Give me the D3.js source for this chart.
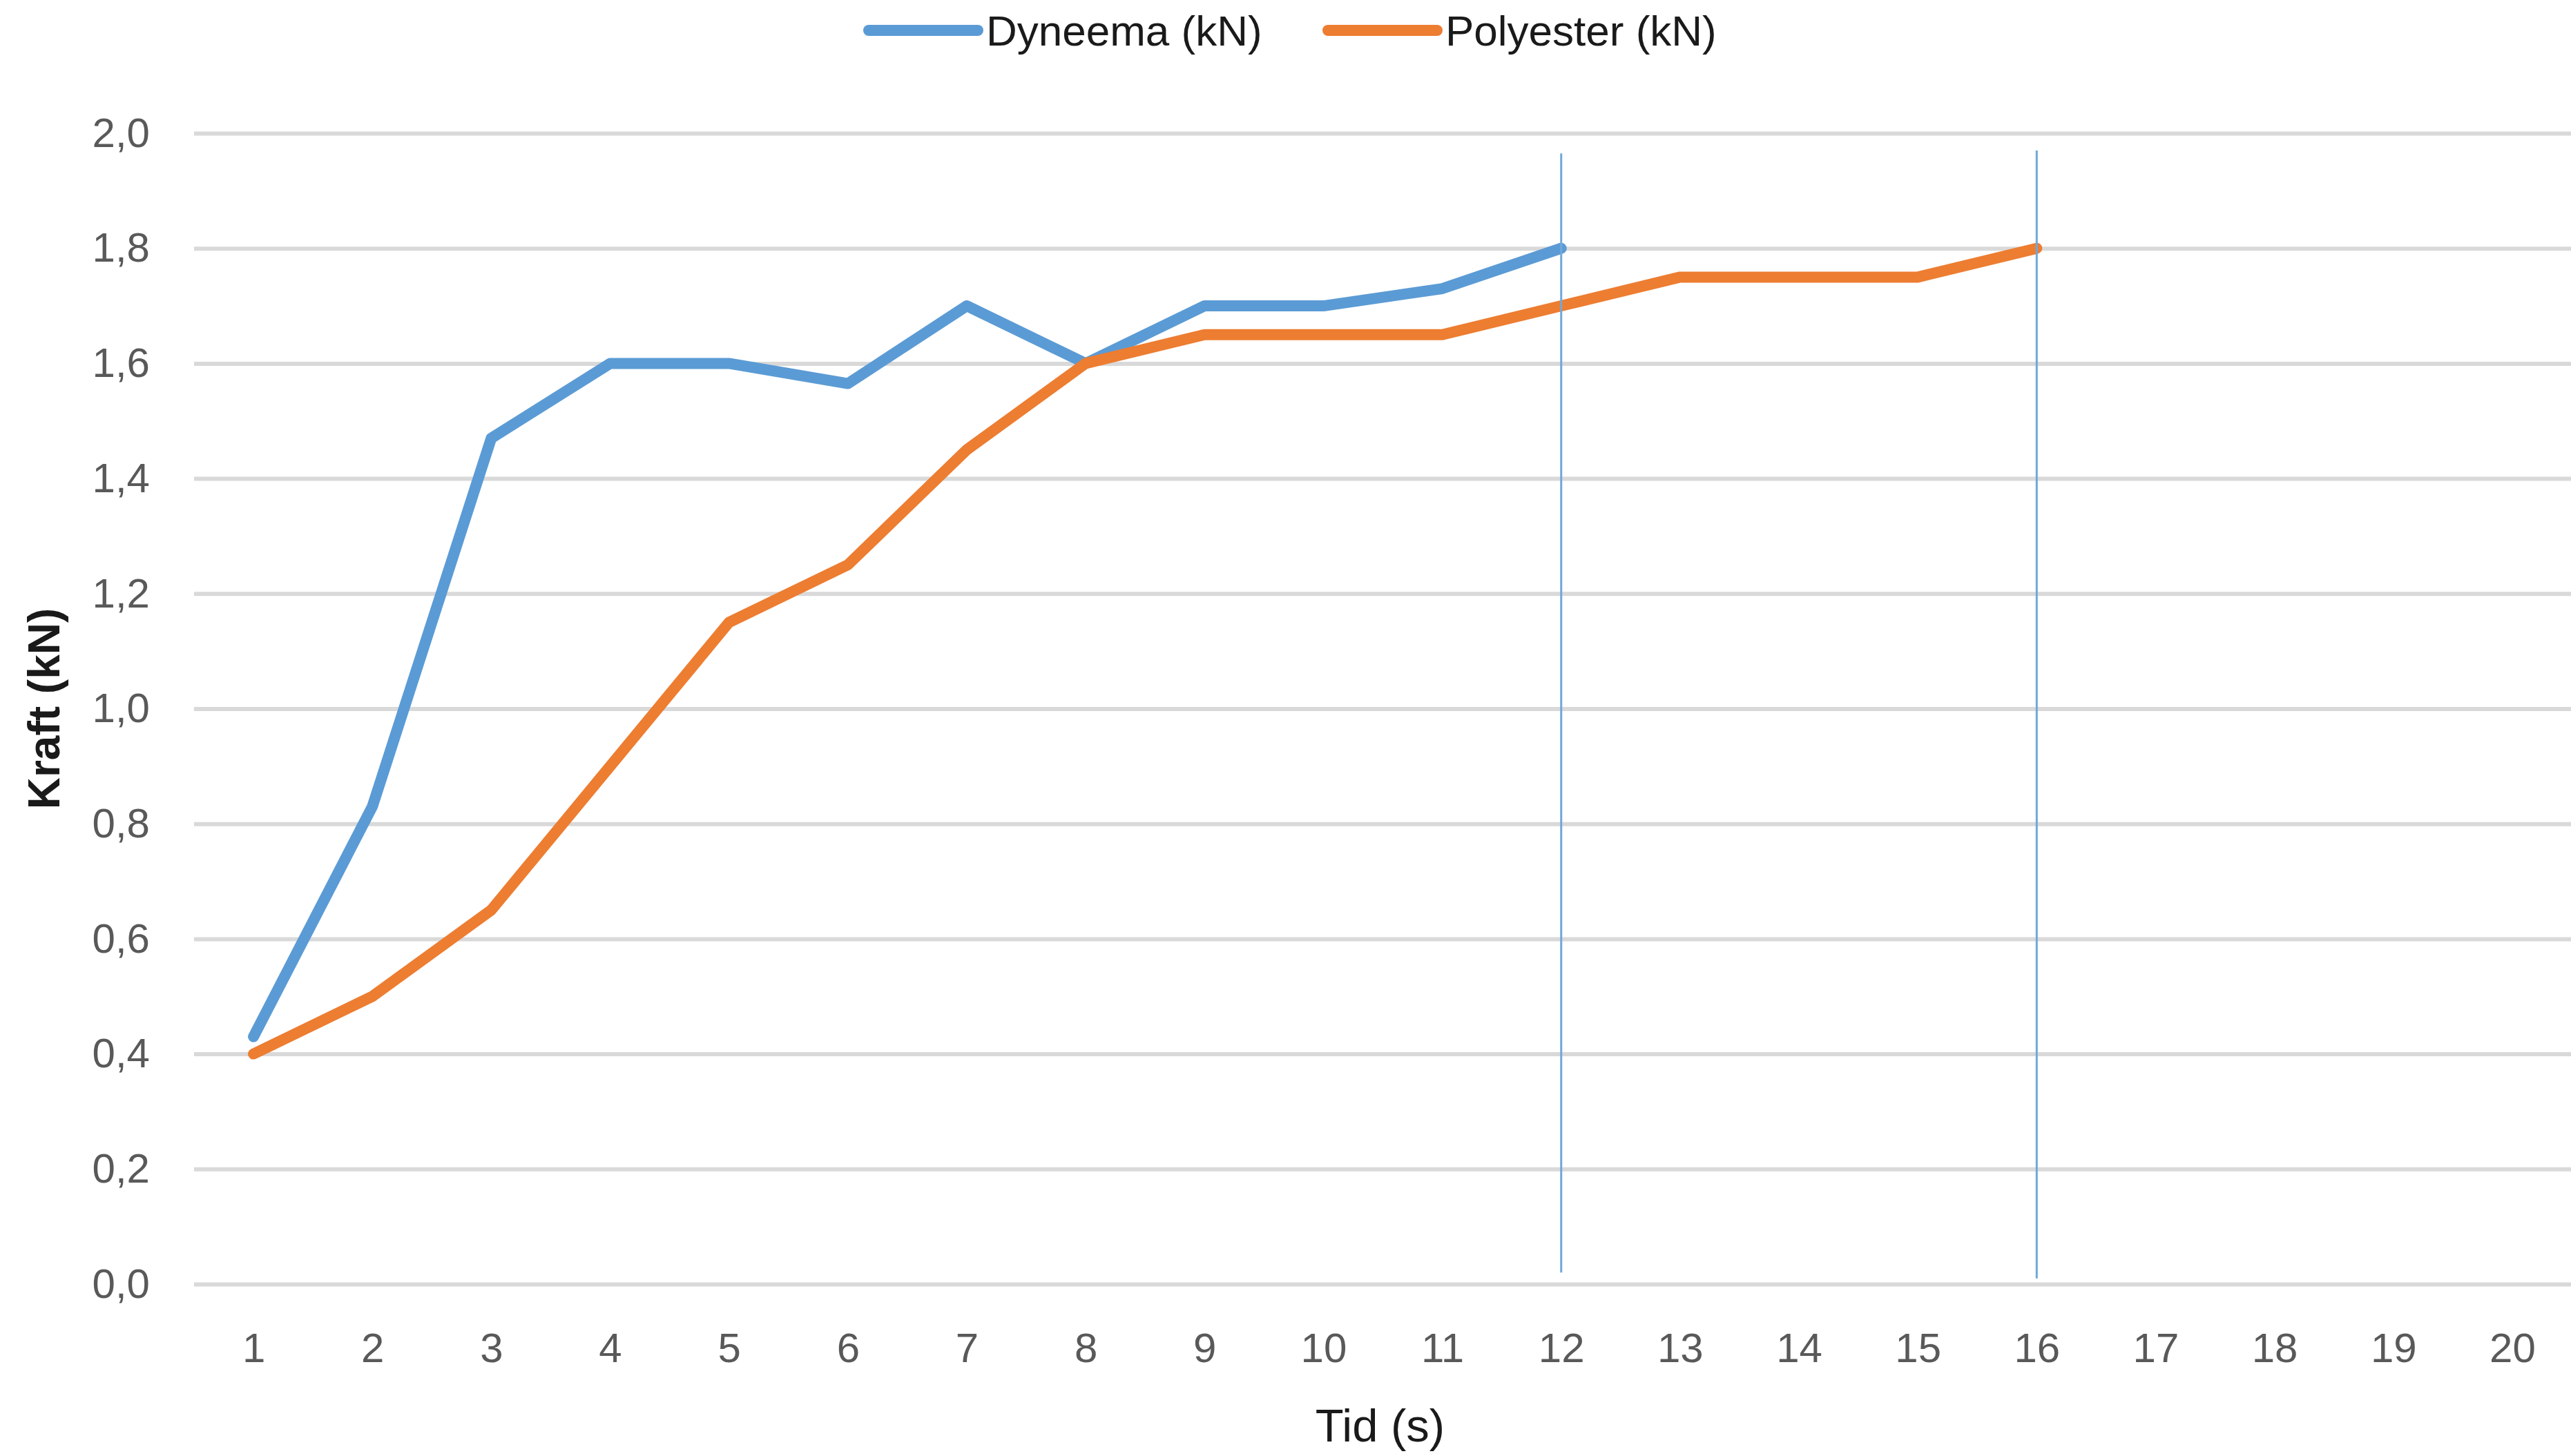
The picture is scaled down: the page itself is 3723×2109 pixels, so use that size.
<!DOCTYPE html>
<html>
<head>
<meta charset="utf-8">
<script src="https://cdn.jsdelivr.net/npm/d3@7"></script>
<style>
	body { margin: 0; background: white; }
	text { font-family: "Liberation Sans", Arial, sans-serif; }
</style>
</head>
<body>
<svg id="chart"></svg>
<script>
//****************************************************************************************************************************//
// Data

var tid = [1, 2, 3, 4, 5, 6, 7, 8, 9, 10, 11, 12, 13, 14, 15, 16, 17, 18, 19, 20];
var dyneema = [0.43, 0.83, 1.47, 1.60, 1.60, 1.565, 1.70, 1.60, 1.70, 1.70, 1.73, 1.80];
var polyester = [0.40, 0.50, 0.65, 0.90, 1.15, 1.25, 1.45, 1.60, 1.65, 1.65, 1.65, 1.70, 1.75, 1.75, 1.75, 1.80];
var yTicks = [0, 0.2, 0.4, 0.6, 0.8, 1.0, 1.2, 1.4, 1.6, 1.8, 2.0];
var seriesNames = ["Dyneema (kN)", "Polyester (kN)"];
var seriesColors = ["#5B9BD5", "#ED7D31"];
// vertical marker lines drawn on the chart (time, top value, bottom value)
var markerTimes = [12, 16];
var markerTops = [1.965, 1.97];
var markerBottoms = [0.02, 0.01];

//****************************************************************************************************************************//
// Canvas

var width = 3723, height = 2109;
var plot = {left: 281, right: 3724, top: 193, bottom: 1860};

var canvas = d3.select("#chart")
				.attr("width", width)
				.attr("height", height);

var x = d3.scalePoint()
			.domain(tid)
			.range([plot.left, plot.right])
			.padding(0.5);

var y = d3.scaleLinear()
			.domain([0, 2])
			.range([plot.bottom, plot.top]);

var commaFormat = d3.formatLocale({decimal: ",", thousands: ".", grouping: [3], currency: ["", ""]}).format(".1f");

//****************************************************************************************************************************//
// Axes

var yAxis = d3.axisLeft(y)
				.tickValues(yTicks)
				.tickSize(-(plot.right - plot.left))
				.tickPadding(64)
				.tickFormat(commaFormat);

var yAxisGroup = canvas.append("g")
						.attr("transform", "translate(" + plot.left + ",0)")
						.call(yAxis);
yAxisGroup.select(".domain").remove();
yAxisGroup.selectAll(".tick line")
			.attr("stroke", "#d9d9d9")
			.attr("stroke-width", 6);
yAxisGroup.selectAll(".tick text")
			.attr("fill", "#595959")
			.style("font-size", "60px");

var xAxis = d3.axisBottom(x)
				.tickSize(0)
				.tickPadding(70);

var xAxisGroup = canvas.append("g")
						.attr("transform", "translate(0," + plot.bottom + ")")
						.call(xAxis);
xAxisGroup.select(".domain").remove();
xAxisGroup.selectAll(".tick text")
			.attr("fill", "#595959")
			.style("font-size", "60px");

// axis titles
canvas.append("text")
		.attr("transform", "translate(86," + ((plot.top + plot.bottom) / 2) + ") rotate(-90)")
		.attr("text-anchor", "middle")
		.attr("fill", "#1a1a1a")
		.style("font-size", "64px")
		.style("font-weight", "bold")
		.text("Kraft (kN)");

canvas.append("text")
		.attr("x", (plot.left + plot.right) / 2 - 4)
		.attr("y", 2088)
		.attr("text-anchor", "middle")
		.attr("fill", "#1a1a1a")
		.style("font-size", "67px")
		.text("Tid (s)");

//****************************************************************************************************************************//
// Lines

var line = d3.line()
				.x(function(d, i){ return x(tid[i]); })
				.y(function(d){ return y(d); });

[dyneema, polyester].forEach(function(values, s){
	canvas.append("path")
		.attr("d", line(values))
		.attr("fill", "none")
		.attr("stroke", seriesColors[s])
		.attr("stroke-width", 16)
		.attr("stroke-linejoin", "round")
		.attr("stroke-linecap", "round");
});

// marker lines
markerTimes.forEach(function(t, i){
	canvas.append("line")
		.attr("x1", x(t))
		.attr("x2", x(t))
		.attr("y1", y(markerTops[i]))
		.attr("y2", y(markerBottoms[i]))
		.attr("stroke", "#6fa8dc")
		.attr("stroke-width", 3);
});

//****************************************************************************************************************************//
// Legend

var legendX = [1258, 1923];
var legend = canvas.append("g");
seriesNames.forEach(function(name, i){
	legend.append("line")
		.attr("x1", legendX[i])
		.attr("x2", legendX[i] + 158)
		.attr("y1", 44)
		.attr("y2", 44)
		.attr("stroke", seriesColors[i])
		.attr("stroke-width", 16)
		.attr("stroke-linecap", "round");
	legend.append("text")
		.attr("x", legendX[i] + 170)
		.attr("y", 66)
		.attr("fill", "#1a1a1a")
		.style("font-size", "62px")
		.text(name);
});
</script>
</body>
</html>
